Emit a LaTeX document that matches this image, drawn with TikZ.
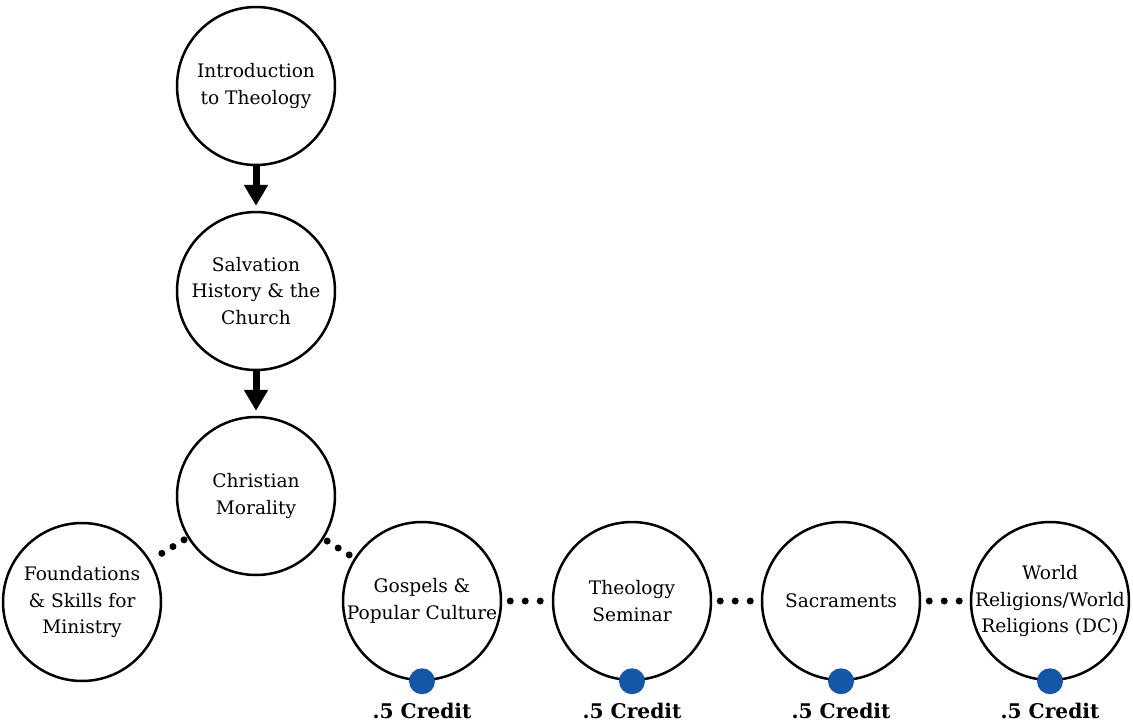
\documentclass[tikz,border=0pt]{standalone}
\usepackage{fontspec}
\setmainfont{DejaVu Serif}
\usetikzlibrary{arrows.meta}
\definecolor{creditblue}{HTML}{1457A8}
\tikzset{
  course/.style={circle, draw, line width=0.05cm, minimum size=3.16cm, inner sep=-0.1cm, align=center, font=\fontsize{10.6}{15}\selectfont},
  prereq/.style={line width=0.14cm, -{Triangle[width=0.46cm,length=0.42cm]}, shorten >=0.1cm},
  elective/.style={line width=0.14cm, line cap=round, dash pattern=on 0pt off 0.3cm, shorten <=0.16cm, shorten >=0.16cm},
  diagelective/.style={elective, dash pattern=on 0pt off 0.26cm, shorten <=0.08cm, shorten >=0.08cm},
  credit/.style={circle, fill=creditblue, minimum size=0.52cm, inner sep=0pt},
  creditlbl/.style={font=\bfseries\fontsize{11.5}{13}\selectfont}
}
\begin{document}
\begin{tikzpicture}[x=0.02cm, y=-0.02cm]
\useasboundingbox (0,0) rectangle (1133,725);
\node[course] (crs0) at (256,86) {Introduction\\to Theology};
\node[course] (crs1) at (256,291) {Salvation\\History \& the\\Church};
\node[course] (crs2) at (256,496) {Christian\\Morality};
\node[course] (crs3) at (82,602) {Foundations\\\& Skills for\\Ministry};
\node[course] (crs4) at (422,601) {Gospels \&\\Popular Culture};
\node[course] (crs5) at (632,601) {Theology\\Seminar};
\node[course] (crs6) at (841,601) {Sacraments};
\node[course] (crs7) at (1050,601) {World\\Religions/World\\Religions (DC)};
\draw[prereq] (crs0) -- (crs1);
\draw[prereq] (crs1) -- (crs2);
\draw[diagelective] (crs2) -- (crs3);
\draw[diagelective] (crs2) -- (crs4);
\draw[elective] (crs4) -- (crs5);
\draw[elective] (crs5) -- (crs6);
\draw[elective] (crs6) -- (crs7);
\foreach \i in {4,...,7}{
  \node[credit] (dot\i) at (crs\i.south) {};
  \node[creditlbl] (lbl\i) at ([yshift=-0.6cm]crs\i.south) {.5 Credit};
}
\end{tikzpicture}
\end{document}
